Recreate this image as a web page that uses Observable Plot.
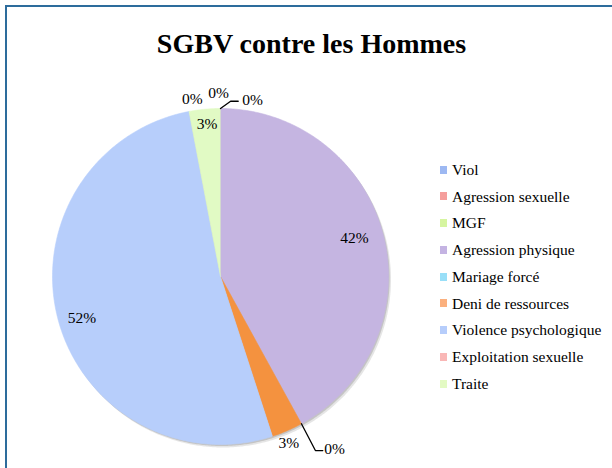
<!DOCTYPE html>
<html>
<head>
<meta charset="utf-8">
<script src="https://cdn.jsdelivr.net/npm/d3@7"></script>
<script src="https://cdn.jsdelivr.net/npm/@observablehq/plot@0.6"></script>
<style>
  body { margin: 0; background: #fff; }
  #wrap { position: relative; width: 612px; height: 468px; overflow: hidden; font-family: "Liberation Serif", serif; background: #fff; }
  #wrap svg { position: absolute; left: 0; top: 0; }
  #frame { position: absolute; left: 5px; top: 5px; width: 800px; height: 800px; border-top: 2px solid #2D6C9C; border-left: 2px solid #2D6C9C; box-sizing: border-box; }
  #title { position: absolute; left: 0; width: 623px; top: 30px; text-align: center; font-weight: bold; font-size: 28px; line-height: 28px; color: #000; white-space: nowrap; }
  .lg-sw { position: absolute; width: 7px; height: 8px; }
  .lg-tx { position: absolute; font-size: 15.5px; line-height: 16px; color: #000; white-space: nowrap; }
</style>
</head>
<body>
<div id="wrap">
  <div id="frame"></div>
  <div id="title">SGBV contre les Hommes</div>
  <div id="legend"></div>
</div>
<script>
// ---- data ----
const categories = ["Viol", "Agression sexuelle", "MGF", "Agression physique", "Mariage forcé", "Deni de ressources", "Violence psychologique", "Exploitation sexuelle", "Traite"];
const values = [0, 0, 0, 42, 0, 3, 52, 0, 3];
const valueLabels = ["0%", "0%", "0%", "42%", "0%", "3%", "52%", "0%", "3%"];
const legendColors = ["#9DB8F2", "#F59E9C", "#D6F5A0", "#C4B3E2", "#99DFF8", "#FBB07E", "#B6CDFB", "#F9B7B6", "#E3FAC3"];
const sliceColors = ["#9DB8F2", "#F59E9C", "#D6F5A0", "#C5B5E1", "#99DFF8", "#F4923F", "#B7CEFB", "#F9B7B6", "#E1FAC4"];
// label placement (style): shown?, radius factor, angular shift in degrees
const showLabel = [true, false, true, true, true, true, true, true, true];
const labelRadius = [1.095, 1.065, 1.065, 0.83, 1.23, 1.07, 0.86, 1.07, 0.91];
const labelShift = [-0.6, 10.3, 10.3, -1.6, -4.7, 1.1, -2.1, 1.8, 0.4];
const leaderElbow = [null, null, {shift: 3.3, r: 1.045, gap: 0.085}, null, {shift: 0.2, r: 1.18, gap: 0.07}, null, null, null, null];

// ---- geometry from data ----
const arcs = d3.pie().sort(null).value(d => d)(values);
const polar = (a, r) => [r * Math.sin(a), r * Math.cos(a)];
const deg = Math.PI / 180;

const slicePts = [];
const shadowPts = [];
arcs.forEach((a, i) => {
  if (values[i] <= 0) return;
  const name = categories[i];
  slicePts.push({name, x: 0, y: 0});
  const n = Math.max(2, Math.ceil((a.endAngle - a.startAngle) / (0.5 * deg)));
  for (let k = 0; k <= n; k++) {
    const t = a.startAngle + (a.endAngle - a.startAngle) * k / n;
    const [x, y] = polar(t, 1);
    slicePts.push({name, x, y});
  }
});
for (let k = 0; k <= 720; k++) {
  const [x, y] = polar(k * 0.5 * deg, 1);
  shadowPts.push({x, y});
}

const labels = [];
const leaders = [];
arcs.forEach((a, i) => {
  if (!showLabel[i]) return;
  const mid = (a.startAngle + a.endAngle) / 2 + labelShift[i] * deg;
  const [lx, ly] = polar(mid, labelRadius[i]);
  labels.push({x: lx, y: ly, text: valueLabels[i]});
  const el = leaderElbow[i];
  if (el) {
    const a0 = (a.startAngle + a.endAngle) / 2;
    const [sx, sy] = polar(a0, 1);
    const [ex, ey] = polar(a0 + el.shift * deg, el.r);
    leaders.push({id: i, x: sx, y: sy});
    leaders.push({id: i, x: ex, y: ey});
    leaders.push({id: i, x: lx - el.gap, y: ey});
  }
});

const chart = Plot.plot({
  width: 612,
  height: 468,
  margin: 0,
  x: {domain: [-1, 1], range: [52, 388], axis: null},
  y: {domain: [-1, 1], range: [444, 108], axis: null},
  color: {domain: categories, range: sliceColors},
  style: {fontFamily: "Liberation Serif, serif", background: "transparent", overflow: "visible"},
  marks: [
    Plot.line(shadowPts, {x: "x", y: "y", dx: 2.5, dy: 3, fill: "#000", fillOpacity: 0.10, stroke: "none"}),
    Plot.line(shadowPts, {x: "x", y: "y", dx: 1.2, dy: 1.5, fill: "#000", fillOpacity: 0.14, stroke: "none"}),
    Plot.line(slicePts, {x: "x", y: "y", z: "name", fill: "name", stroke: "name", strokeWidth: 0.6}),
    Plot.line(leaders, {x: "x", y: "y", z: "id", stroke: "#000", strokeWidth: 1.3}),
    Plot.text(labels, {x: "x", y: "y", text: "text", fontSize: 15.5, fill: "#000"})
  ]
});
document.getElementById("wrap").insertBefore(chart, document.getElementById("frame"));

// ---- legend ----
const legend = document.getElementById("legend");
categories.forEach((c, i) => {
  const sw = document.createElement("div");
  sw.className = "lg-sw";
  sw.style.left = "440px";
  sw.style.top = (165.5 + i * 26.75) + "px";
  sw.style.background = legendColors[i];
  legend.appendChild(sw);
  const tx = document.createElement("div");
  tx.className = "lg-tx";
  tx.style.left = "452px";
  tx.style.top = (161.8 + i * 26.75) + "px";
  tx.textContent = c;
  legend.appendChild(tx);
});
</script>
</body>
</html>
